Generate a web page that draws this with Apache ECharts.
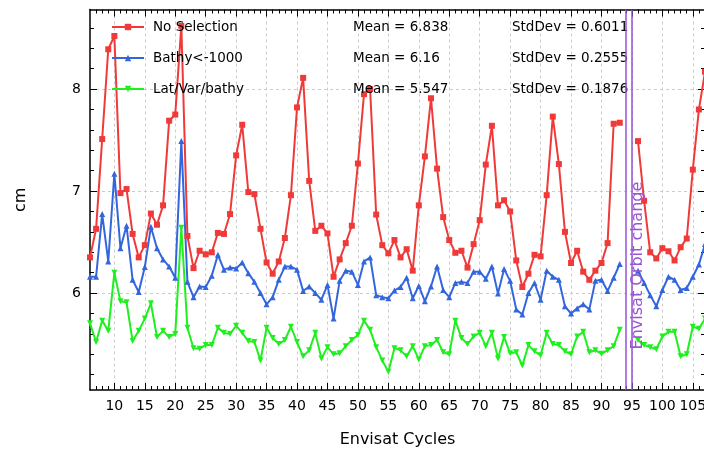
<!DOCTYPE html>
<html><head><meta charset="utf-8">
<script src="https://cdn.jsdelivr.net/npm/echarts@6/dist/echarts.min.js"></script>
<style>html,body{margin:0;padding:0;background:#fff}#c{width:704px;height:450px}</style>
</head><body><div id="c"></div>
<script>
const cycles = [6,7,8,9,10,11,12,13,14,15,16,17,18,19,20,21,22,23,24,25,26,27,28,29,30,31,32,33,34,35,36,37,38,39,40,41,42,43,44,45,46,47,48,49,50,51,52,53,54,55,56,57,58,59,60,61,62,63,64,65,66,67,68,69,70,71,72,73,74,75,76,77,78,79,80,81,82,83,84,85,86,87,88,89,90,91,92,93,94,95,96,97,98,99,100,101,102,103,104,105,106,107];
const seriesNames = ['No Selection', 'Bathy<-1000', 'Lat/Var/bathy'];
const noSelection = [6.35,6.63,7.51,8.39,8.52,6.98,7.02,6.58,6.35,6.47,6.78,6.67,6.86,7.69,7.75,8.62,6.56,6.245,6.415,6.38,6.40,6.59,6.58,6.775,7.35,7.65,6.99,6.97,6.63,6.30,6.19,6.31,6.54,6.96,7.82,8.11,7.10,6.61,6.66,6.585,6.16,6.33,6.49,6.66,7.27,7.95,8.00,6.77,6.47,6.39,6.52,6.35,6.43,6.22,6.86,7.34,7.91,7.22,6.745,6.52,6.395,6.415,6.25,6.48,6.715,7.26,7.64,6.86,6.91,6.80,6.32,6.06,6.19,6.375,6.36,6.96,7.73,7.265,6.60,6.295,6.415,6.21,6.13,6.22,6.295,6.49,7.66,7.67,null,null,7.49,6.905,6.40,6.34,6.44,6.41,6.32,6.45,6.535,7.21,7.80,8.17];
const bathy = [6.16,6.16,6.775,6.31,7.17,6.44,6.66,6.13,6.01,6.255,6.65,6.44,6.33,6.26,6.15,7.49,6.11,5.96,6.065,6.06,6.17,6.375,6.23,6.25,6.24,6.30,6.195,6.11,6.00,5.89,5.96,6.13,6.26,6.26,6.23,6.02,6.065,6.00,5.935,6.08,5.75,6.12,6.22,6.21,6.08,6.31,6.35,5.98,5.96,5.95,6.025,6.06,6.15,5.95,6.07,5.92,6.065,6.26,6.03,5.96,6.10,6.11,6.10,6.21,6.21,6.14,6.26,5.995,6.235,6.12,5.84,5.79,6.00,6.10,5.935,6.22,6.16,6.13,5.87,5.80,5.85,5.89,5.84,6.12,6.13,6.02,6.15,6.285,null,null,6.22,6.10,5.98,5.87,6.03,6.16,6.13,6.03,6.05,6.16,6.28,6.48];
const latVarBathy = [5.705,5.52,5.73,5.63,6.20,5.92,5.91,5.53,5.63,5.75,5.90,5.57,5.63,5.57,5.60,6.64,5.66,5.46,5.455,5.49,5.49,5.66,5.61,5.60,5.68,5.61,5.53,5.52,5.34,5.66,5.56,5.50,5.54,5.67,5.52,5.38,5.44,5.61,5.36,5.47,5.40,5.41,5.48,5.54,5.59,5.73,5.64,5.47,5.34,5.23,5.46,5.44,5.38,5.48,5.35,5.48,5.49,5.54,5.42,5.40,5.73,5.56,5.50,5.575,5.61,5.48,5.61,5.36,5.57,5.41,5.42,5.29,5.49,5.43,5.39,5.61,5.50,5.49,5.43,5.40,5.575,5.62,5.42,5.44,5.405,5.44,5.48,5.64,null,null,5.54,5.49,5.47,5.45,5.575,5.62,5.62,5.38,5.40,5.67,5.65,5.75];
const meanValues = ['6.838', '6.16', '5.547'];
const stdValues = ['0.6011', '0.2555', '0.1876'];
const xTickLabels = [10,15,20,25,30,35,40,45,50,55,60,65,70,75,80,85,90,95,100,105];
const yTickLabels = [6,7,8];
const orbitChange = [94, 95];
const orbitLabel = 'Envisat Orbit change';
const orbitLabelPos = [95.95, 6.27];

const FONT = '"DejaVu Sans", sans-serif';
const X_MIN = 6, X_MAX = 107, Y_MIN = 5.05, Y_MAX = 8.78;
const minorX = []; for (let v = 7; v <= 106; v++) if (v % 5) minorX.push(v);
const minorY = []; for (let k = 26; k <= 43; k++) if (k % 5) minorY.push(k / 5);

const chart = echarts.init(document.getElementById('c'), null, {renderer: 'canvas'});

function axis(kind, pos, ticks, len, opts) {
  const a = {
    type: 'value', position: pos,
    min: kind === 'x' ? X_MIN : Y_MIN, max: kind === 'x' ? X_MAX : Y_MAX,
    axisLine: {show: false, onZero: false, lineStyle: {color: '#000', width: 1.5}},
    axisTick: {show: true, inside: true, length: len, customValues: ticks, lineStyle: {color: '#000', width: 1}},
    axisLabel: {show: false},
    splitLine: {show: false},
    silent: true
  };
  return Object.assign(a, opts || {});
}
const gridLine = {show: true, lineStyle: {color: '#cccccc', type: [3, 3], width: 1}};
const labelStyle = (vals) => ({show: true, customValues: vals, fontSize: 14, color: '#000', fontFamily: FONT, margin: 9});

function mk(name, vals, color, symbol, size, rot) {
  return {
    name, type: 'line', xAxisIndex: 0, yAxisIndex: 0,
    data: cycles.map((c, i) => [c, vals[i]]),
    symbol, symbolSize: size, symbolRotate: rot, showSymbol: true,
    lineStyle: {color, width: 2}, itemStyle: {color},
    connectNulls: false, animation: false
  };
}

const series = [
  mk(seriesNames[0], noSelection, '#f03a3a', 'rect', 6, 0),
  mk(seriesNames[1], bathy, '#3366dd', 'triangle', 6, 0),
  mk(seriesNames[2], latVarBathy, '#1ef01e', 'triangle', 6, 180)
];
series[0].markLine = {
  silent: true, symbol: 'none', label: {show: false},
  lineStyle: {color: '#9650d6', width: 1.5, type: 'solid'},
  data: orbitChange.map(v => ({xAxis: v})), animation: false
};

chart.setOption({
  animation: false,
  backgroundColor: '#fff',
  grid: {left: 90, width: 615, top: 9.5, height: 380.5, containLabel: false, outerBoundsMode: 'none'},
  xAxis: [
    axis('x', 'bottom', xTickLabels, 7, {
      axisLine: {show: true, onZero: false, lineStyle: {color: '#000', width: 1.5}},
      axisLabel: labelStyle(xTickLabels), splitLine: gridLine,
      name: 'Envisat Cycles', nameLocation: 'middle', nameGap: 42,
      nameTextStyle: {fontSize: 16, color: '#000', fontFamily: FONT}
    }),
    axis('x', 'bottom', minorX, 4),
    axis('x', 'top', xTickLabels, 7, {axisLine: {show: true, onZero: false, lineStyle: {color: '#000', width: 1.5}}}),
    axis('x', 'top', minorX, 4)
  ],
  yAxis: [
    axis('y', 'left', yTickLabels, 7, {
      axisLine: {show: true, onZero: false, lineStyle: {color: '#000', width: 1.5}},
      axisLabel: labelStyle(yTickLabels), splitLine: gridLine,
      name: 'cm', nameLocation: 'middle', nameGap: 61, nameRotate: 90,
      nameTextStyle: {fontSize: 16, color: '#000', fontFamily: FONT}
    }),
    axis('y', 'left', minorY, 4),
    axis('y', 'right', yTickLabels, 7, {axisLine: {show: true, onZero: false, lineStyle: {color: '#000', width: 1.5}}}),
    axis('y', 'right', minorY, 4)
  ],
  legend: {
    orient: 'vertical', left: 106, top: 15, itemWidth: 32, itemHeight: 8, itemGap: 17,
    data: seriesNames, selectedMode: false,
    formatter: (name) => {
      const i = seriesNames.indexOf(name);
      return '{n|' + name + '}{m|Mean = ' + meanValues[i] + '}{s|StdDev = ' + stdValues[i] + '}';
    },
    textStyle: {
      fontFamily: FONT, fontSize: 13.5, color: '#000', padding: [0, 0, 0, 4], lineHeight: 14, height: 14,
      rich: {
        n: {width: 200, fontSize: 13.5, fontFamily: FONT, color: '#000', lineHeight: 14},
        m: {width: 159, fontSize: 13.5, fontFamily: FONT, color: '#000', lineHeight: 14},
        s: {fontSize: 13.5, fontFamily: FONT, color: '#000', lineHeight: 14}
      }
    }
  },
  series
});

const p = chart.convertToPixel({xAxisIndex: 0, yAxisIndex: 0}, orbitLabelPos);
chart.setOption({
  graphic: [{
    type: 'text', x: p[0], y: p[1], rotation: Math.PI / 2, silent: true, z: 10,
    style: {text: orbitLabel, fill: '#9a55d5', font: '16px ' + FONT, align: 'center', verticalAlign: 'middle'}
  }]
});
</script>
</body></html>
